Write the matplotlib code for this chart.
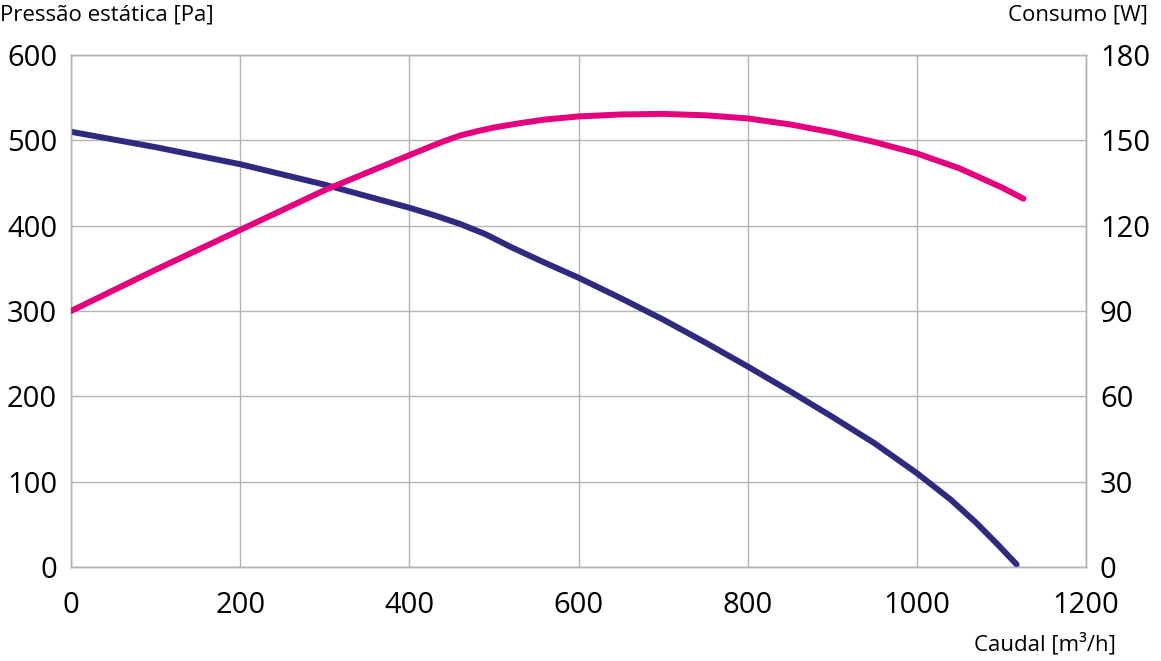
import numpy as np
import matplotlib
matplotlib.use('Agg')
from matplotlib import pyplot as plt

plt.rcParams['font.family'] = ['Open Sans', 'DejaVu Sans']

# curva de pressão (eixo esquerdo)
caudal_p = [0, 100, 200, 300, 400, 430, 460, 490, 520, 557, 600, 650, 700, 750, 800,
            850, 900, 950, 1000, 1040, 1070, 1095, 1118]
pressao = [510, 492, 472, 448, 421, 412, 402, 390, 375, 358, 339, 315, 290, 263, 235,
           206, 176, 145, 110, 79, 52, 27, 3]
# curva de consumo (eixo direito)
caudal_w = [0, 100, 200, 300, 400, 440, 460, 480, 500, 530, 560, 600, 650, 700, 750, 800,
            850, 900, 950, 1000, 1050, 1100, 1126]
consumo = [90, 104.5, 118.5, 132.5, 144.8, 149.6, 151.7, 153.2, 154.5, 156.0, 157.3, 158.4, 159.1, 159.3, 158.8, 157.7,
           155.6, 152.8, 149.4, 145.4, 140.2, 133.5, 129.5]

xticks = [0, 200, 400, 600, 800, 1000, 1200]
yticks_l = [0, 100, 200, 300, 400, 500, 600]
yticks_r = [0, 30, 60, 90, 120, 150, 180]

fig = plt.figure(figsize=(11.61, 6.61), dpi=100)
ax = fig.add_axes([0.0612, 0.1422, 0.8742, 0.7746])
ax2 = ax.twinx()

ax.plot(caudal_p, pressao, color='#2e2a7f', lw=4.3, solid_capstyle='round',
        solid_joinstyle='round', zorder=3)
ax2.plot(caudal_w, consumo, color='#e5007e', lw=4.3, solid_capstyle='round',
         solid_joinstyle='round', zorder=3)

ax.set_xlim(0, 1200)
ax.set_ylim(0, 600)
ax2.set_ylim(0, 180)
ax.set_xticks(xticks)
ax.set_yticks(yticks_l)
ax2.set_yticks(yticks_r)
ax.grid(True, color='#b4b4b4', lw=1)
for a in (ax, ax2):
    for s in a.spines.values():
        s.set_color('#b4b4b4')
        s.set_linewidth(1)
    a.tick_params(length=0, labelsize=21)
ax.tick_params(axis='y', pad=10)
ax.tick_params(axis='x', pad=17)
ax2.tick_params(axis='y', pad=10)

fig.text(0.0, 0.977, 'Pressão estática [Pa]', fontsize=16, ha='left', va='center')
fig.text(0.989, 0.977, 'Consumo [W]', fontsize=16, ha='right', va='center')
fig.text(0.961, 0.025, 'Caudal [m³/h]', fontsize=16, ha='right', va='center')

plt.savefig('out.png', dpi=100)
